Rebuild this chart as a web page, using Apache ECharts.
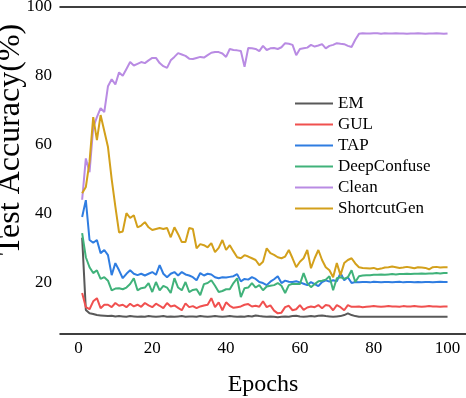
<!DOCTYPE html>
<html>
<head>
<meta charset="utf-8">
<script src="https://cdn.jsdelivr.net/npm/echarts@6/dist/echarts.min.js"></script>
<style>
html,body{margin:0;padding:0;background:#fff;}
#chart{width:466px;height:398px;}
</style>
</head>
<body>
<div id="chart"></div>
<script>
const seriesNames = ['EM', 'GUL', 'TAP', 'DeepConfuse', 'Clean', 'ShortcutGen'];
const xTickLabels = [0, 20, 40, 60, 80, 100];
const yTickLabels = [20, 40, 60, 80, 100];

const emValues = [33, 12, 11, 10.8, 10.5, 10.4, 10.3, 10.2, 10.3, 10.1, 10.2, 10.1, 10, 10.2, 10.1, 10, 10.1, 10, 10.2, 10.1,
  10, 10.1, 10.2, 10, 10.1, 10, 10.1, 10.2, 10, 10.1, 10.1, 10, 10.2, 10.1, 10, 10.1, 10.2, 10.1, 10, 10.1,
  10.2, 10.1, 10, 10.1, 10, 10.2, 10.1, 10.4, 10.2, 10.1, 10, 10.1, 10, 9.9, 10, 10.1, 10, 10.2, 10.3, 10.1,
  10, 10.1, 10.2, 10.1, 10.3, 10.4, 10.2, 10.1, 10, 10.1, 10.2, 10.5, 11, 10.5, 10.2, 10, 10, 10, 10, 10,
  10, 10, 10, 10, 10, 10, 10, 10, 10, 10, 10, 10, 10, 10, 10, 10, 10, 10, 10, 10];
const gulValues = [16.9, 12.8, 12.2, 14.5, 15.4, 12.5, 13.5, 13.5, 12.8, 14, 13.2, 13.5, 12.8, 13.8, 13, 13.5, 12.9, 14, 13.3, 12.8,
  13.8, 13.2, 12.5, 14, 13, 13.3, 12.6, 11.9, 13.9, 12.8, 13.1, 12.5, 13, 13.3, 13.5, 15.4, 12.8, 14.2, 11.9, 14.2,
  13.2, 12.6, 12.8, 13, 13.5, 13.7, 13, 13.2, 12.9, 14.5, 12.8, 13.3, 11.8, 11, 11.2, 12.8, 13.2, 11.9, 12.2, 13.4,
  12, 12.7, 13, 12.8, 13.4, 12.5, 13.4, 13.2, 11.9, 13.4, 12.8, 11.9, 13.4, 12.9, 12.9, 13, 12.8, 12.9, 13, 13.1,
  13, 12.9, 13, 13.1, 13, 13, 12.9, 13.1, 13, 13, 13.1, 13, 12.9, 13, 13.1, 13, 13, 12.9, 13, 13];
const tapValues = [39, 43.9, 32.3, 31.5, 32.3, 28.5, 29.4, 27.9, 22.1, 25.6, 23.5, 21.2, 22.5, 23.5, 22.5, 22.1, 22.5, 22, 22.5, 23,
  22.2, 25, 22.5, 21.5, 22.5, 23, 22, 23, 22.3, 22, 21.5, 20.6, 22.7, 22, 22.5, 22.3, 21.5, 21.2, 21.5, 21.4,
  21.6, 21.8, 22.4, 20.3, 21, 20.8, 21.5, 21, 20.1, 19.8, 19.2, 20.2, 20.9, 21.8, 19.8, 20.5, 20.2, 20.1, 20.3, 20,
  19.6, 19.2, 20.1, 19.5, 18.9, 20.1, 20.6, 20.2, 20.6, 20.3, 22.7, 20.6, 21.5, 19.8, 20.1, 20, 20.1, 20.1, 20, 20.2,
  20.1, 20, 20.1, 20.1, 20, 20.1, 20.2, 20, 20.1, 20.1, 20, 20.1, 20, 20.1, 20.1, 20, 20.1, 20.2, 20.1, 20.1];
const deepConfuseValues = [34.3, 27.3, 24.4, 22.7, 23.5, 21, 21.5, 20.5, 17.7, 18.2, 18.3, 18, 18.5, 19.5, 21.2, 17.7, 18.3, 18.5, 19.8, 17.2,
  20.1, 17.7, 19, 18.5, 16.9, 21.2, 18.5, 17.7, 20.1, 17.2, 17.8, 18, 16.3, 19.5, 19.8, 20.6, 19, 17.2, 17.5, 18,
  18, 19.8, 21.2, 15.7, 18.3, 18.5, 19.8, 18.5, 19.2, 17.7, 18.8, 19, 19.2, 19.8, 19, 16.9, 19.2, 19.6, 19.5, 19.5,
  22.7, 19.8, 18.6, 19.5, 20.3, 20.5, 20.8, 21.8, 17.7, 21.2, 21.5, 21, 21.5, 23.5, 20.1, 21.8, 22, 22.1, 22.1, 22.2,
  22.2, 22.3, 22.2, 22.3, 22.4, 22.3, 22.4, 22.4, 22.5, 22.4, 22.5, 22.5, 22.6, 22.5, 22.6, 22.6, 22.7, 22.6, 22.7, 22.7];
const cleanValues = [44, 56, 52, 65, 68, 70.6, 69.5, 77, 79, 77.5, 81, 80, 82, 84, 83, 83.5, 84, 83.7, 84.5, 85.2,
  85.2, 83.7, 82.8, 82.3, 84.5, 85.5, 86.6, 86.2, 85.8, 85, 84.9, 85.2, 85.5, 85.3, 86, 86.7, 86.9, 86.9, 86.5, 85.5,
  87.8, 87.5, 87.4, 87.2, 82.6, 88.1, 88, 87.8, 87.2, 88.7, 87.5, 88, 88.1, 87.8, 88.3, 89.5, 89.3, 89, 86, 87.8,
  88, 88.2, 89, 88.5, 88.8, 89.2, 88, 88.7, 89, 89.5, 89.3, 89.2, 88.7, 88.4, 90.5, 92.2, 92.4, 92.3, 92.3, 92.4,
  92.4, 92.2, 92.4, 92.3, 92.3, 92.4, 92.3, 92.3, 92.2, 92.3, 92.3, 92.4, 92.3, 92.2, 92.3, 92.3, 92.4, 92.3, 92.2, 92.3];
const shortcutGenValues = [45.9, 47.7, 55, 68, 61.3, 68.6, 64, 59.3, 50, 42, 34.5, 34.8, 40.1, 38.7, 39.5, 36, 36.5, 37.5, 36, 35.2,
  35.5, 35.8, 35.5, 35.8, 33.1, 36, 34, 31.7, 31.7, 35.8, 35.5, 29.9, 31.1, 30.8, 30.2, 31.4, 28.8, 30, 32.3, 29.4,
  30.8, 29, 27.3, 27, 27.9, 27.5, 27, 26.5, 25, 26, 29.9, 28.5, 28, 27.3, 27, 27.5, 29.4, 27, 24.4, 26,
  27, 29.4, 24.1, 27, 29.4, 26.5, 24.4, 23.5, 21.5, 25.6, 22.1, 25.6, 26.5, 27, 25.5, 24.4, 24.2, 24.1, 24, 24.2,
  23.8, 24, 24.3, 24.4, 24.6, 24.4, 24.2, 24.3, 24.5, 24.3, 24.1, 24.4, 24.3, 24.2, 23.8, 24.4, 24.5, 24.3, 24.4, 24.4];

const allValues = [emValues, gulValues, tapValues, deepConfuseValues, cleanValues, shortcutGenValues];
const colors = ['#595959', '#f0504f', '#2f7de1', '#40b27a', '#b98be3', '#d3a01b'];
const serif = 'Liberation Serif, Times New Roman, serif';

const chart = echarts.init(document.getElementById('chart'), null, {renderer: 'canvas'});
chart.setOption({
  animation: false,
  backgroundColor: '#fff',
  grid: {left: 60, right: 0, top: 7, bottom: 64, containLabel: false, outerBoundsMode: 'none'},
  legend: {
    orient: 'vertical',
    left: 290,
    top: 90,
    itemWidth: 38,
    itemHeight: 10,
    itemGap: 4,
    icon: 'path://M0,4 L38,4 L38,6 L0,6 Z',
    textStyle: {fontFamily: serif, fontSize: 17, color: '#000', lineHeight: 17},
    data: seriesNames
  },
  xAxis: [{
    type: 'value', min: -5, max: 105, position: 'bottom',
    name: 'Epochs', nameLocation: 'middle', nameGap: 39,
    nameTextStyle: {fontFamily: serif, fontSize: 24, color: '#000'},
    axisLine: {show: true, lineStyle: {color: '#000', width: 1.5}},
    axisTick: {show: false},
    splitLine: {show: false},
    axisLabel: {customValues: xTickLabels, fontFamily: serif, fontSize: 17, color: '#000', margin: 6}
  }, {
    type: 'value', min: -5, max: 105, position: 'top',
    axisLine: {show: true, lineStyle: {color: '#000', width: 1.5}},
    axisTick: {show: false}, axisLabel: {show: false}, splitLine: {show: false}
  }],
  yAxis: {
    type: 'value', min: 5, max: 100,
    name: 'Test Accuracy(%)', nameLocation: 'middle', nameGap: 33, nameMoveOverlap: false,
    nameTextStyle: {fontFamily: serif, fontSize: 32, color: '#000', padding: [0, 0, 0, 62]},
    axisLine: {show: false}, axisTick: {show: false}, splitLine: {show: false},
    axisLabel: {customValues: yTickLabels, fontFamily: serif, fontSize: 17, color: '#000', margin: 8}
  },
  series: seriesNames.map((n, i) => ({
    name: n,
    type: 'line',
    xAxisIndex: 0,
    symbol: 'none',
    color: colors[i],
    lineStyle: {width: 2, color: colors[i]},
    data: allValues[i].map((v, j) => [j + 1, v])
  }))
});
</script>
</body>
</html>
